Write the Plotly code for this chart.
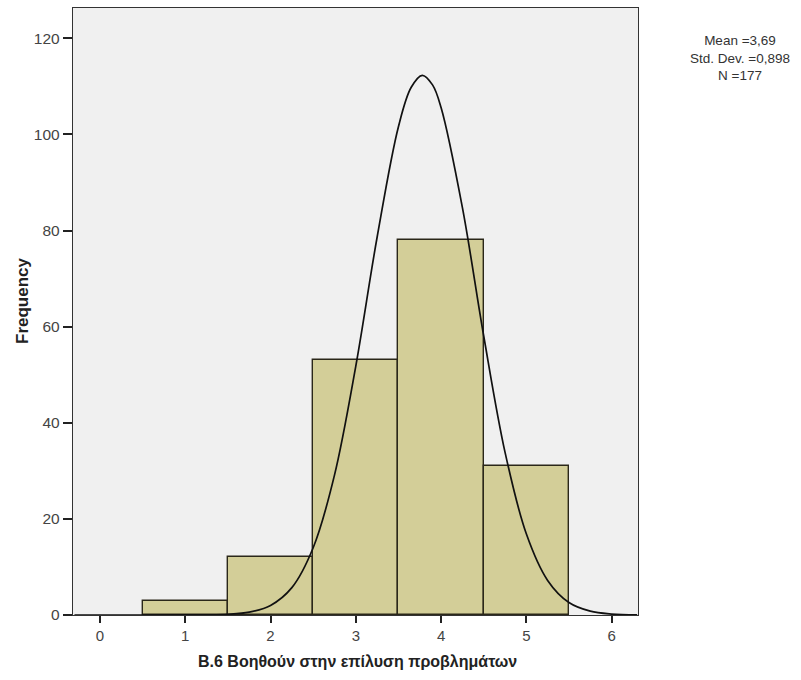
import plotly.graph_objects as go

# Histogram bins (category value) and frequencies
bin_centers = [1, 2, 3, 4, 5]
frequencies = [3, 12, 53, 78, 31]

# Normal curve
curve_x = [-0.3, 0.5, 1.0, 1.25, 1.5, 1.75, 2.0, 2.25, 2.5, 2.75, 3.0, 3.25, 3.5, 3.65,
           3.78, 3.9, 4.0, 4.25, 4.5, 4.75, 5.0, 5.25, 5.5, 5.75, 6.0, 6.3]
curve_y = [0, 0, 0.01, 0.04, 0.15, 0.6, 2.0, 5.7, 14.0, 29.1, 51.8, 78.6, 101.6, 109.8,
           112.3, 110.3, 105.6, 84.8, 58.1, 33.9, 16.9, 7.2, 2.6, 0.8, 0.2, 0.03]

y_ticks = [0, 20, 40, 60, 80, 100, 120]
x_ticks = [0, 1, 2, 3, 4, 5, 6]

stats_text = "Mean =3,69<br>Std. Dev. =0,898<br>N =177"
x_title = "B.6 Βοηθούν στην επίλυση προβλημάτων"
y_title = "Frequency"

W, H = 801, 680
L, R, T, B = 73, 163, 8, 65
pw, ph = W - L - R, H - T - B

def px(x):
    return (x - L) / pw

def py(y):
    return 1 - (y - T) / ph

fig = go.Figure()
fig.add_trace(go.Bar(
    x=bin_centers, y=frequencies, width=1,
    marker=dict(color="#D3CE98", line=dict(color="#2A2719", width=1.4)),
    hoverinfo="x+y", showlegend=False,
))
fig.add_trace(go.Scatter(
    x=curve_x, y=curve_y, mode="lines", line=dict(color="#111111", width=1.7, shape="spline"),
    showlegend=False, hoverinfo="skip",
))

font_family = "Liberation Sans, Arial, sans-serif"
fig.update_layout(
    width=W, height=H,
    margin=dict(l=L, r=R, t=T, b=B),
    paper_bgcolor="white", plot_bgcolor="#F0F0F0",
    font=dict(family=font_family, color="#333333"),
    bargap=0,
    annotations=[
        dict(x=px(740), y=py(58), xref="paper", yref="paper", text=stats_text,
             showarrow=False, align="center", xanchor="center", yanchor="middle",
             font=dict(size=13.5, color="#333333")),
        dict(x=px(357), y=py(661), xref="paper", yref="paper", text="<b>" + x_title + "</b>",
             showarrow=False, xanchor="center", yanchor="middle",
             font=dict(size=16, color="#222222")),
        dict(x=px(22), y=py(301), xref="paper", yref="paper", text="<b>" + y_title + "</b>",
             showarrow=False, xanchor="center", yanchor="middle", textangle=-90,
             font=dict(size=17, color="#222222")),
    ],
)

fig.update_xaxes(
    range=[-0.317, 6.31], tickvals=x_ticks, ticks="outside", ticklen=7, tickwidth=1.5,
    tickcolor="#222222", showline=True, linecolor="#333333", linewidth=1.4, mirror=True,
    showgrid=False, zeroline=False, tickfont=dict(size=15, color="#444444"),
)
fig.update_yaxes(
    range=[0, 126.3], tickvals=y_ticks, ticks="outside", ticklen=9, tickwidth=1.5,
    tickcolor="#222222", showline=True, linecolor="#333333", linewidth=1.4, mirror=True,
    showgrid=False, zeroline=False, tickfont=dict(size=15.5, color="#444444"),
    ticklabelstandoff=0,
)

fig.write_html("out.html")
